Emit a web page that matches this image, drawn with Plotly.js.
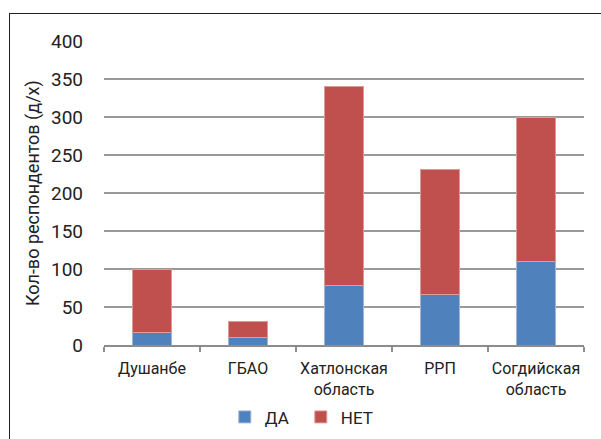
<!DOCTYPE html>
<html>
<head>
<meta charset="utf-8">
<script src="https://cdn.plot.ly/plotly-3.0.1.min.js"></script>
<style>
  html, body { margin: 0; padding: 0; background: #fff; overflow: hidden; }
  #frame { position: absolute; left: 9px; top: 13px; width: 640px; height: 480px; border: 1.5px solid #222; box-sizing: border-box; }
  #chart { position: absolute; left: 0; top: 0; width: 601px; height: 439px; }
</style>
</head>
<body>
<div id="frame"></div>
<div id="chart"></div>
<script>
const categories = ["Душанбе", "ГБАО", "Хатлонская<br>область", "РРП", "Согдийская<br>область"];
const yesValues = [17, 10, 78, 67, 110];
const noValues = [83, 21, 262, 164, 190];
const seriesNames = ["ДА", "НЕТ"];
const yTicks = [0, 50, 100, 150, 200, 250, 300, 350, 400];
const yTitle = "Кол-во респондентов (д/х)";

const font = "Roboto, 'Liberation Sans', sans-serif";

const traces = [
  { type: "bar", name: seriesNames[0], x: categories, y: yesValues,
    marker: { color: "#4F81BD", line: { color: "#9DB6DA", width: 1 } } },
  { type: "bar", name: seriesNames[1], x: categories, y: noValues,
    marker: { color: "#C0504D", line: { color: "#E09B99", width: 1 } } }
];

const layout = {
  width: 601, height: 439,
  margin: { l: 104, r: 17, t: 41, b: 94, autoexpand: false },
  paper_bgcolor: "rgba(0,0,0,0)", plot_bgcolor: "rgba(0,0,0,0)",
  barmode: "stack", bargap: 0.6,
  font: { family: font, color: "#222" },
  showlegend: true,
  legend: { orientation: "h", x: 0.41, xanchor: "center", y: -0.238, yanchor: "middle",
            font: { size: 17, family: font, color: "#222" }, itemwidth: 30, traceorder: "normal",
            entrywidth: 31, entrywidthmode: "pixels" },
  xaxis: {
    type: "category", showgrid: false, showline: true, linecolor: "#8c8c8c", linewidth: 1.5,
    ticks: "outside", tickson: "boundaries", ticklen: 5, tickcolor: "#8c8c8c", tickwidth: 1.5,
    tickfont: { size: 16, family: font, color: "#222" }, tickangle: 0, fixedrange: true, automargin: false,
    ticklabelstandoff: 8
  },
  yaxis: {
    range: [0, 400], tickvals: yTicks, ticktext: yTicks.map(String),
    showgrid: true, gridcolor: "#999", gridwidth: 1.3, zeroline: false, showline: false,
    tickfont: { size: 19, family: font, color: "#222" }, ticklabelstandoff: 20,
    fixedrange: true, automargin: false
  },
  annotations: [
    { text: yTitle, xref: "paper", yref: "paper", x: -0.148, y: 0.5, xanchor: "center", yanchor: "middle",
      textangle: -90, showarrow: false, font: { size: 18, family: font, color: "#222" } }
  ]
};

Plotly.newPlot("chart", traces, layout, { displayModeBar: false, staticPlot: true });
</script>
</body>
</html>
